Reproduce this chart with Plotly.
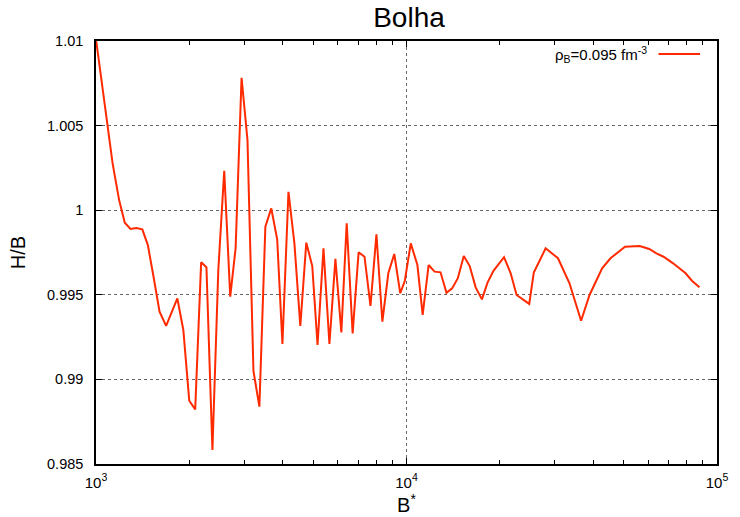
import plotly.graph_objects as go

# B* values (log axis) and H/B values
b_star = [1000, 1055, 1131, 1187, 1238, 1291, 1349, 1410, 1469, 1532,
          1602, 1682, 1828, 1911, 1997, 2087, 2181, 2268, 2371, 2477,
          2588, 2706, 2816, 2943, 3075, 3214, 3359, 3511, 3668, 3833,
          3985, 4167, 4355, 4550, 4756, 4972, 5170, 5403, 5646, 5902,
          6168, 6418, 6707, 7010, 7325, 7656, 8001, 8361, 8738, 9135,
          9548, 9877, 10321, 10842, 11274, 11782, 12313, 12870, 13452, 14028,
          14633, 15292, 15980, 16701, 17495, 18239, 19059, 20613, 21653, 22624,
          24847, 25701, 28064, 30753, 33491, 36500, 38862, 42658, 45394, 50558,
          56373, 60507, 63795, 67265, 72212, 79250, 83022, 87800]
h_over_b = [1.0101, 1.00691, 1.00277, 1.0006, 0.99926, 0.99889, 0.99895, 0.99887, 0.99794, 0.99607,
            0.99400, 0.99316, 0.99479, 0.99292, 0.98874, 0.98823, 0.99692, 0.99663, 0.98583, 0.99647,
            1.00233, 0.99489, 0.99775, 1.00783, 1.00415, 0.99050, 0.98839, 0.99902, 1.00011, 0.99828,
            0.99209, 1.00109, 0.99804, 0.99316, 0.99808, 0.99670, 0.99203, 0.99775, 0.99209, 0.99712,
            0.99278, 0.99923, 0.99272, 0.99751, 0.99725, 0.99434, 0.99858, 0.99341, 0.99627, 0.99741,
            0.99509, 0.99583, 0.99804, 0.99676, 0.99381, 0.99676, 0.99637, 0.99633, 0.99512, 0.99538,
            0.99598, 0.99729, 0.99670, 0.99544, 0.99473, 0.99572, 0.99642, 0.99722, 0.99627, 0.99499,
            0.99446, 0.99631, 0.99775, 0.99716, 0.99568, 0.99347, 0.99499, 0.99657, 0.99716, 0.99784,
            0.99788, 0.99771, 0.99745, 0.99725, 0.99686, 0.99627, 0.99583, 0.99544]

x_tickvals = [1e3, 1e4, 1e5]
x_ticktext = ["10<sup>3</sup>", "10<sup>4</sup>", "10<sup>5</sup>"]
y_tickvals = [0.985, 0.99, 0.995, 1.0, 1.005, 1.01]
y_ticktext = ["0.985", "0.99", "0.995", "1", "1.005", "1.01"]
series_name = "ρ<sub>B</sub>=0.095 fm<sup>-3</sup>"

font = "Liberation Sans, Arial, sans-serif"
red = "#ff2a00"

fig = go.Figure()
fig.add_trace(go.Scatter(x=b_star, y=h_over_b, mode="lines",
                         line=dict(color=red, width=2), name=series_name,
                         showlegend=False))

fig.update_layout(
    width=740, height=517,
    margin=dict(l=96, r=18, t=41, b=53),
    paper_bgcolor="white", plot_bgcolor="white",
    font=dict(family=font, color="black", size=14),
    title=dict(text="Bolha", x=0.5527, xanchor="center", y=0.966, yanchor="middle",
               font=dict(size=28, family=font, color="black")),
)
fig.update_xaxes(
    type="log", range=[3, 5],
    tickvals=x_tickvals, ticktext=x_ticktext,
    ticks="inside", ticklen=6, tickwidth=1, tickcolor="black",
    showline=True, linecolor="black", linewidth=1.5, mirror="allticks",
    showgrid=True, gridcolor="#666666", griddash="dot", gridwidth=1,
    minor=dict(ticks="inside", ticklen=4, tickwidth=1, tickcolor="black",
               dtick="D1", showgrid=False),
    tickfont=dict(size=15), ticklabelstandoff=4,
    title=dict(text="B<sup>*</sup>", font=dict(size=20), standoff=0),
    zeroline=False,
)
fig.update_yaxes(
    range=[0.985, 1.01],
    tickvals=y_tickvals, ticktext=y_ticktext,
    ticks="inside", ticklen=6, tickwidth=1, tickcolor="black",
    showline=True, linecolor="black", linewidth=1.5, mirror="allticks",
    showgrid=True, gridcolor="#666666", griddash="dot", gridwidth=1,
    tickfont=dict(size=14.5), ticklabelstandoff=8,
    title=dict(text="H/B", font=dict(size=20), standoff=16),
    zeroline=False,
)

# gnuplot-style key: text on the left, line sample on the right
fig.add_annotation(xref="paper", yref="paper", x=0.8898, y=0.969,
                   xanchor="right", yanchor="middle", showarrow=False,
                   text=series_name, font=dict(size=15, family=font))
fig.add_shape(type="line", xref="paper", yref="paper",
              x0=0.9058, x1=0.9728, y0=0.969, y1=0.969,
              line=dict(color=red, width=2))

fig.write_html("out.html")
